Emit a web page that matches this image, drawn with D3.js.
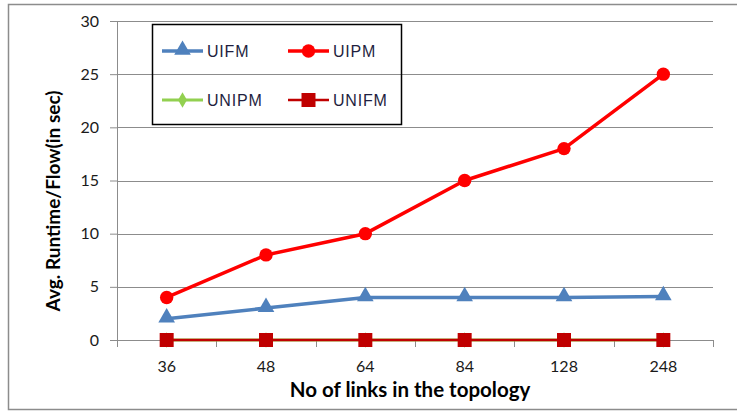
<!DOCTYPE html>
<html>
<head>
<meta charset="utf-8">
<script src="https://cdn.jsdelivr.net/npm/d3@7"></script>
<style>
  body { margin: 0; background: #fff; }
  svg { display: block; }
</style>
</head>
<body>
<svg id="chart" width="737" height="412"></svg>
<script>
// chart data
const categories = ['36', '48', '64', '84', '128', '248'];
const uifm  = [2, 3, 4, 4, 4, 4.1];
const uipm  = [4, 8, 10, 15, 18, 25];
const unipm = [0, 0, 0, 0, 0, 0];
const unifm = [0, 0, 0, 0, 0, 0];
const yTicks = [0, 5, 10, 15, 20, 25, 30];

const series = [
  { name: 'UIFM',  values: uifm,  color: '#4f81bd', marker: 'triangle', width: 3.5 },
  { name: 'UIPM',  values: uipm,  color: '#ff0000', marker: 'circle',   width: 3.5 },
  { name: 'UNIPM', values: unipm, color: '#92d050', marker: 'diamond',  width: 3 },
  { name: 'UNIFM', values: unifm, color: '#c00000', marker: 'square',   width: 2.5 }
];

const svg = d3.select('#chart');
const margin = { top: 21, right: 24, bottom: 72, left: 117 };
const width = 737 - margin.left - margin.right,
      height = 412 - margin.top - margin.bottom;

// outer chart border
svg.append('rect')
  .attr('x', 8.5).attr('y', 4.5)
  .attr('width', 740).attr('height', 405)
  .attr('fill', 'none').attr('stroke', '#8c8c8c').attr('stroke-width', 1.5);

const g = svg.append('g').attr('transform', `translate(${margin.left},${margin.top})`);

const x = d3.scaleBand().domain(categories).range([0, width]);
const y = d3.scaleLinear().domain([0, 30]).range([height, 0]);
const cx = d => x(d) + x.bandwidth() / 2;

// gridlines
g.append('g').selectAll('line')
  .data(yTicks.filter(d => d > 0))
  .join('line')
  .attr('x1', 0).attr('x2', width)
  .attr('y1', d => Math.round(y(d)) + 0.5).attr('y2', d => Math.round(y(d)) + 0.5)
  .attr('stroke', '#8c8c8c').attr('stroke-width', 1);

// y axis
const yAxis = g.append('g')
  .call(d3.axisLeft(y).tickValues(yTicks).tickSize(7).tickPadding(11));
yAxis.select('.domain').attr('stroke', '#8c8c8c').attr('d', `M0.5,${height + 1}V0`);
yAxis.selectAll('.tick line').attr('stroke', '#8c8c8c');
yAxis.selectAll('.tick text')
  .attr('font-family', 'Lato, "Open Sans", sans-serif')
  .attr('font-size', 16).attr('fill', '#1a1a1a');

// x axis: ticks at category boundaries
const xAxis = g.append('g').attr('transform', `translate(0,${height})`);
xAxis.append('line')
  .attr('x1', 0).attr('x2', width)
  .attr('y1', 0.5).attr('y2', 0.5)
  .attr('stroke', '#8c8c8c');
xAxis.selectAll('.bound')
  .data(categories.concat(['end']))
  .join('line')
  .attr('class', 'bound')
  .attr('x1', (d, i) => Math.round(i * x.bandwidth()) + 0.5)
  .attr('x2', (d, i) => Math.round(i * x.bandwidth()) + 0.5)
  .attr('y1', 0).attr('y2', 7)
  .attr('stroke', '#8c8c8c');
xAxis.selectAll('.lbl')
  .data(categories)
  .join('text')
  .attr('class', 'lbl')
  .attr('x', d => cx(d)).attr('y', 32)
  .attr('text-anchor', 'middle')
  .attr('font-family', 'Lato, "Open Sans", sans-serif')
  .attr('font-size', 16).attr('fill', '#1a1a1a')
  .text(d => d);

// axis titles
svg.append('text')
  .attr('x', 410).attr('y', 397)
  .attr('text-anchor', 'middle')
  .attr('font-family', 'Lato, "Open Sans", sans-serif')
  .attr('font-weight', 'bold').attr('font-size', 20.5).attr('fill', '#000')
  .text('No of links in the topology');

svg.append('text')
  .attr('transform', 'translate(60,201) rotate(-90)')
  .attr('text-anchor', 'middle')
  .attr('font-family', 'Lato, "Open Sans", sans-serif')
  .attr('font-weight', 'bold').attr('font-size', 19).attr('fill', '#000')
  .text('Avg. Runtime/Flow(in sec)');

// marker drawing
function drawMarker(sel, type, color) {
  const sym = { triangle: d3.symbolTriangle, circle: d3.symbolCircle,
                diamond: d3.symbolDiamond, square: d3.symbolSquare }[type];
  const size = { triangle: 120, circle: 140, diamond: 70, square: 196 }[type];
  sel.append('path')
    .attr('d', d3.symbol().type(sym).size(size))
    .attr('fill', color);
}

const line = d3.line()
  .x((d, i) => cx(categories[i]))
  .y(d => y(d));

series.forEach(s => {
  const sg = g.append('g');
  sg.append('path')
    .datum(s.values)
    .attr('d', line)
    .attr('fill', 'none')
    .attr('stroke', s.color)
    .attr('stroke-width', s.width)
    .attr('stroke-linejoin', 'round');
  sg.selectAll('.m')
    .data(s.values)
    .join('g')
    .attr('class', 'm')
    .attr('transform', (d, i) => `translate(${cx(categories[i])},${y(d) + (s.marker === 'triangle' ? -1 : 0)})`)
    .each(function () { drawMarker(d3.select(this), s.marker, s.color); });
});

// legend
const legend = svg.append('g');
legend.append('rect')
  .attr('x', 152.5).attr('y', 24.5)
  .attr('width', 249).attr('height', 100)
  .attr('fill', 'none').attr('stroke', '#000').attr('stroke-width', 1.5);

const legPos = [[162, 51], [288, 51], [162, 100], [288, 100]];
series.forEach((s, i) => {
  const [lx, ly] = legPos[i];
  const lg = legend.append('g').attr('transform', `translate(${lx},${ly})`);
  lg.append('line')
    .attr('x1', 0).attr('x2', 41).attr('y1', 0).attr('y2', 0)
    .attr('stroke', s.color).attr('stroke-width', s.width);
  const mg = lg.append('g').attr('transform', `translate(20.5,${s.marker === 'triangle' ? -1 : 0})`);
  drawMarker(mg, s.marker, s.color);
  lg.append('text')
    .attr('x', 45).attr('y', 6)
    .attr('font-family', '"Liberation Sans", Arial, sans-serif')
    .attr('font-size', 16).attr('letter-spacing', 0.8)
    .attr('fill', '#1f1f3f')
    .text(s.name);
});
</script>
</body>
</html>
